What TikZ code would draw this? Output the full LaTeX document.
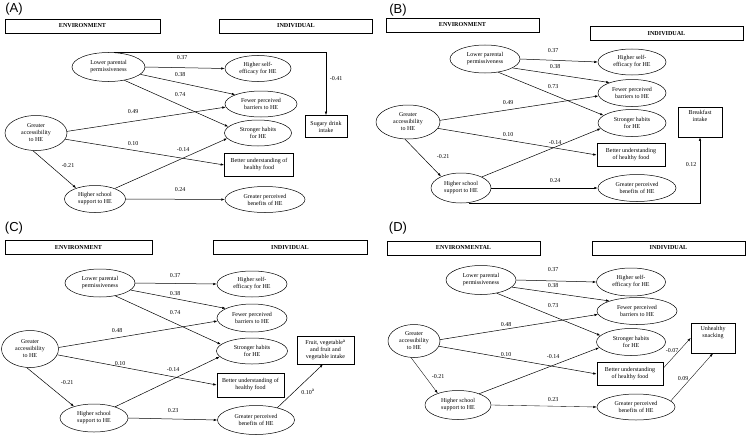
\documentclass[tikz,border=0pt]{standalone}
\usepackage{fontspec}
\setmainfont{Liberation Serif}
\newfontfamily\panelfont{Liberation Sans}
\usetikzlibrary{shapes.geometric,arrows.meta}
\begin{document}
\begin{tikzpicture}[x=1pt, y=-1pt, >={Latex[length=3.5pt,width=2.4pt]}, line width=0.5pt,
	ell/.style={draw, ellipse, inner sep=0pt, align=center, font=\fontsize{6}{7}\selectfont},
	bx/.style={draw, rectangle, inner sep=0pt, align=center, line width=0.6pt, font=\fontsize{6}{7}\selectfont},
	hd/.style={draw, rectangle, minimum height=14pt, inner sep=0pt, font=\bfseries\fontsize{6.1}{7}\selectfont},
	lab/.style={inner sep=0pt, font=\fontsize{6}{7}\selectfont},
	pl/.style={inner sep=0pt, font=\panelfont\fontsize{13}{13}\selectfont},
	lt/.style={line width=0.35pt}]
	\useasboundingbox (0,0) rectangle (746,436);
	
	% (A)
	\node[pl] (pA) at (14,9) {(A)};
	\node[hd, minimum width=155pt] (envA) at (82.5,26) {ENVIRONMENT};
	\node[hd, minimum width=153pt] (indA) at (296,26) {INDIVIDUAL};
	\node[ell, minimum width=73pt, minimum height=29pt] (lppA) at (108.5,67) {Lower parental\\permissiveness};
	\node[ell, minimum width=66pt, minimum height=26pt] (hseA) at (258,68.5) {Higher self-\\efficacy for HE};
	\node[ell, minimum width=72pt, minimum height=26pt] (fpbA) at (261,104) {Fewer perceived\\barriers to HE};
	\node[ell, minimum width=67pt, minimum height=26pt] (shA) at (258,133) {Stronger habits\\for HE};
	\node[bx, minimum width=69pt, minimum height=23pt] (buA) at (259,165) {Better understanding of\\healthy food};
	\node[ell, minimum width=80pt, minimum height=26pt] (gpbA) at (265,199.5) {Greater perceived\\benefits of HE};
	\node[ell, minimum width=62pt, minimum height=35pt] (gaA) at (36,133) {Greater\\accessibility\\to HE};
	\node[ell, minimum width=61pt, minimum height=27pt] (hssA) at (95,199) {Higher school\\support to HE};
	\node[bx, minimum width=42pt, minimum height=22pt] (sdA) at (326,126.5) {Sugary drink\\intake};
	\draw[->] (lppA.east) -- (hseA.west);
	\draw[->] (lppA.-13) -- (fpbA.160);
	\draw[->] (lppA.-40) -- (shA.168);
	\draw[->] (gaA.3) -- (fpbA.185);
	\draw[->] (gaA.-12) -- (buA.west);
	\draw[->] (gaA.-100) -- (hssA.150);
	\draw[->] (hssA.28) -- (shA.190);
	\draw[->] (hssA.east) -- (gpbA.west);
	\draw[->] (lppA.70) -| (sdA.north);
	\node[lab] (a1) at (182,58) {0.37};
	\node[lab] (a2) at (180,75) {0.38};
	\node[lab] (a3) at (180,95) {0.74};
	\node[lab] (a4) at (133,112) {0.49};
	\node[lab] (a5) at (133,144) {0.10};
	\node[lab] (a6) at (183,150) {-0.14};
	\node[lab] (a7) at (68,166) {-0.21};
	\node[lab] (a8) at (180,190) {0.24};
	\node[lab] (a9) at (336,79) {-0.41};
	
	% (B)
	\node[pl] (pB) at (398,10) {(B)};
	\node[hd, minimum width=153pt] (envB) at (462.5,25) {ENVIRONMENT};
	\node[hd, minimum width=153pt] (indB) at (666.5,33.5) {INDIVIDUAL};
	\node[ell, minimum width=70pt, minimum height=28pt] (lppB) at (485,59) {Lower parental\\permissiveness};
	\node[ell, minimum width=68pt, minimum height=26pt] (hseB) at (632,62) {Higher self-\\efficacy for HE};
	\node[ell, minimum width=68pt, minimum height=27pt] (fpbB) at (632,93) {Fewer perceived\\barriers to HE};
	\node[ell, minimum width=68pt, minimum height=27pt] (shB) at (632,123) {Stronger habits\\for HE};
	\node[bx, minimum width=68pt, minimum height=23pt] (buB) at (631,155) {Better understanding\\of healthy food};
	\node[ell, minimum width=78pt, minimum height=27pt] (gpbB) at (637,188) {Greater perceived\\benefits of HE};
	\node[ell, minimum width=64pt, minimum height=34pt] (gaB) at (408,122) {Greater\\accessibility\\to HE};
	\node[ell, minimum width=60pt, minimum height=30pt] (hssB) at (461,188) {Higher school\\support to HE};
	\node[bx, minimum width=44pt, minimum height=30pt] (bfB) at (700,122) {};
	\node[lab, align=center, anchor=north] (bftB) at (700,110) {Breakfast\\intake};
	\coordinate (bkB) at (700,203.5);
	\draw[->] (lppB.east) -- (hseB.west);
	\draw[->] (lppB.-18) -- (fpbB.155);
	\draw[->] (lppB.-45) -- (shB.165);
	\draw[->] (gaB.3) -- (fpbB.185);
	\draw[->] (gaB.-12) -- (buB.west);
	\draw[->] (gaB.-100) -- (hssB.150);
	\draw[->] (hssB.28) -- (shB.190);
	\draw[->] (hssB.east) -- (gpbB.west);
	\draw[->] (hssB.-60) |- (bkB) -- (bfB.south);
	\node[lab] (b1) at (553,51) {0.37};
	\node[lab] (b2) at (555,67) {0.38};
	\node[lab] (b3) at (553,87) {0.73};
	\node[lab] (b4) at (508,103) {0.49};
	\node[lab] (b5) at (508,135) {0.10};
	\node[lab] (b6) at (555,143) {-0.14};
	\node[lab] (b7) at (443,157) {-0.21};
	\node[lab] (b8) at (555,181) {0.24};
	\node[lab] (b9) at (691,165) {0.12};
	
	% (C)
	\node[pl] (pC) at (14,228) {(C)};
	\node[hd, minimum width=147pt] (envC) at (78.5,247.5) {ENVIRONMENT};
	\node[hd, minimum width=154pt] (indC) at (290,247.5) {INDIVIDUAL};
	\node[ell, minimum width=70pt, minimum height=28pt] (lppC) at (100,283) {Lower parental\\permissiveness};
	\node[ell, minimum width=70pt, minimum height=26pt] (hseC) at (252,284) {Higher self-\\efficacy for HE};
	\node[ell, minimum width=70pt, minimum height=28pt] (fpbC) at (252,318) {Fewer perceived\\barriers to HE};
	\node[ell, minimum width=71pt, minimum height=26pt] (shC) at (252,351) {Stronger habits\\for HE};
	\node[bx, minimum width=67pt, minimum height=24pt] (buC) at (250.5,385) {Better understanding of\\healthy food};
	\node[ell, minimum width=77pt, minimum height=29pt] (gpbC) at (256,420) {Greater perceived\\benefits of HE};
	\node[ell, minimum width=57pt, minimum height=37pt] (gaC) at (30,349) {Greater\\accessibility\\to HE};
	\node[ell, minimum width=68pt, minimum height=28pt] (hssC) at (94,418) {Higher school\\support to HE};
	\node[bx, minimum width=57pt, minimum height=28pt] (frC) at (325.5,350) {Fruit, vegetable\textsuperscript{a}\\and fruit and\\vegetable intake};
	\draw[->] (lppC.east) -- (hseC.west);
	\draw[->] (lppC.-13) -- (fpbC.160);
	\draw[->] (lppC.-40) -- (shC.168);
	\draw[->] (gaC.3) -- (fpbC.185);
	\draw[->] (gaC.-12) -- (buC.west);
	\draw[->] (gaC.-100) -- (hssC.150);
	\draw[->] (hssC.28) -- (shC.190);
	\draw[->] (hssC.east) -- (gpbC.west);
	\draw[->] (gpbC.30) -- (frC.-100);
	\node[lab] (c1) at (175,276) {0.37};
	\node[lab] (c2) at (175,294) {0.38};
	\node[lab] (c3) at (175,313) {0.74};
	\node[lab] (c4) at (117,331) {0.48};
	\node[lab] (c5) at (120,364) {0.10};
	\node[lab] (c6) at (173,370) {-0.14};
	\node[lab] (c7) at (67,383) {-0.21};
	\node[lab] (c8) at (173,411) {0.23};
	\node[lab] (c9) at (308,392) {0.10\textsuperscript{a}};
	
	% (D)
	\node[pl] (pD) at (398,228) {(D)};
	\node[hd, minimum width=153pt] (envD) at (463.5,248) {ENVIRONMENTAL};
	\node[hd, minimum width=153pt] (indD) at (668.5,248) {INDIVIDUAL};
	\node[ell, minimum width=70pt, minimum height=29pt] (lppD) at (481,280) {Lower parental\\permissiveness};
	\node[ell, minimum width=69pt, minimum height=28pt] (hseD) at (631,282) {Higher self-\\efficacy for HE};
	\node[ell, minimum width=80pt, minimum height=27pt] (fpbD) at (637,311) {Fewer perceived\\barriers to HE};
	\node[ell, minimum width=69pt, minimum height=27pt] (shD) at (631,342) {Stronger habits\\for HE};
	\node[bx, minimum width=66pt, minimum height=23pt] (buD) at (630,374) {Better understanding\\of healthy food};
	\node[ell, minimum width=78pt, minimum height=26pt] (gpbD) at (636,407) {Greater perceived\\benefits of HE};
	\node[ell, minimum width=52pt, minimum height=33pt] (gaD) at (414,341) {Greater\\accessibility\\to HE};
	\node[ell, minimum width=66pt, minimum height=29pt] (hssD) at (458,405) {Higher school\\support to HE};
	\node[bx, minimum width=44pt, minimum height=30pt] (usD) at (713,338) {};
	\node[lab, align=center, anchor=north] (ustD) at (713,326.5) {Unhealthy\\snacking};
	\draw[->] (lppD.east) -- (hseD.west);
	\draw[->] (lppD.-13) -- (fpbD.160);
	\draw[->] (lppD.-40) -- (shD.168);
	\draw[->] (gaD.3) -- (fpbD.185);
	\draw[->] (gaD.-12) -- (buD.west);
	\draw[->, lt] (gaD.-100) -- (hssD.150);
	\draw[->] (hssD.28) -- (shD.190);
	\draw[->, lt] (hssD.east) -- (gpbD.west);
	\draw[->, lt] (buD.10) -- (usD.west);
	\draw[->, lt] (gpbD.10) -- (usD.south);
	\node[lab] (d1) at (553,270) {0.37};
	\node[lab] (d2) at (553,286) {0.38};
	\node[lab] (d3) at (553,306) {0.73};
	\node[lab] (d4) at (506,325) {0.48};
	\node[lab] (d5) at (506,355) {0.10};
	\node[lab] (d6) at (553,357) {-0.14};
	\node[lab] (d7) at (438,377) {-0.21};
	\node[lab] (d8) at (553,400) {0.23};
	\node[lab] (d9) at (672,351) {-0.07};
	\node[lab] (d10) at (683,379) {0.09};
\end{tikzpicture}
\end{document}
